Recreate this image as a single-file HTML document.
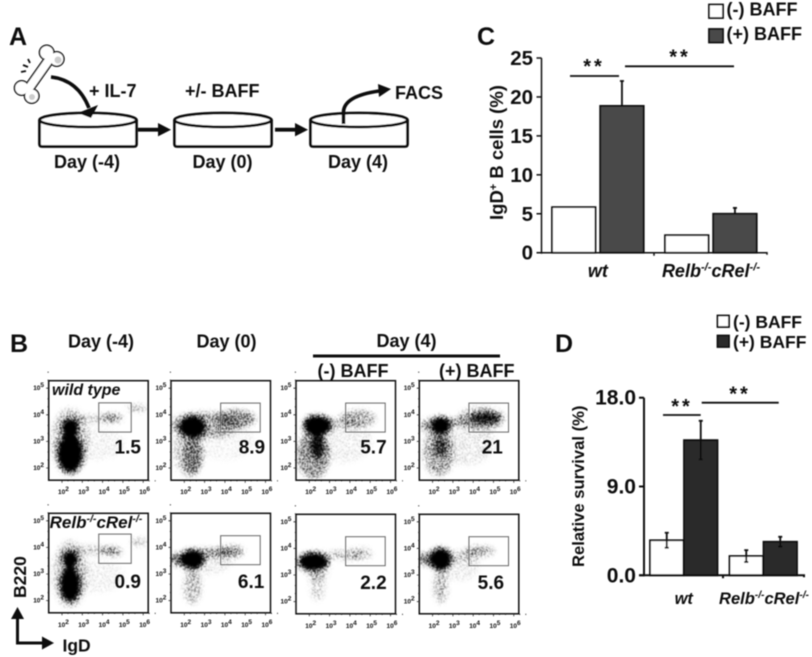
<!DOCTYPE html>
<html>
<head>
<meta charset="utf-8">
<title>BAFF B cell figure</title>
<style>
html,body{margin:0;padding:0;background:#fff;width:812px;height:657px;overflow:hidden}
svg{display:block;font-family:"Liberation Sans",sans-serif;font-weight:bold;fill:#111}
text{fill:#111}
.i{font-style:italic}
</style>
</head>
<body>
<svg id="figure" xmlns="http://www.w3.org/2000/svg" width="812" height="657" viewBox="0 0 812 657">
<defs>
<filter id="soft" x="0" y="0" width="100%" height="100%"><feGaussianBlur stdDeviation="0.4"/></filter>
<filter id="speckle" x="-10%" y="-10%" width="120%" height="120%" color-interpolation-filters="sRGB">
<feGaussianBlur in="SourceAlpha" stdDeviation="2.6" result="density"/>
<feTurbulence type="fractalNoise" baseFrequency="0.8" numOctaves="2" seed="4" result="turb"/>
<feColorMatrix in="turb" type="matrix" values="0 0 0 0 0  0 0 0 0 0  0 0 0 0 0  5 0 0 0 -2" result="noise"/>
<feComposite in="density" in2="noise" operator="arithmetic" k1="0" k2="3.4" k3="2.2" k4="-2.2" result="dither"/>
<feGaussianBlur in="dither" stdDeviation="0.4"/>
</filter>
</defs>
<g id="root" filter="url(#soft)">
<g>
<text x="9" y="45" font-size="25">A</text>
<g>
<g fill="#111" stroke="#111" stroke-width="3">
<circle cx="46.7" cy="52.5" r="6.5"/><circle cx="56.7" cy="59" r="6.5"/><circle cx="21.7" cy="88" r="6.5"/><circle cx="31.7" cy="96" r="6.5"/>
<path d="M51 57L27 91" stroke-width="11"/>
</g>
<g fill="#fff" stroke="#fff">
<circle cx="46.7" cy="52.5" r="6.5" stroke-width="0"/><circle cx="56.7" cy="59" r="6.5" stroke-width="0"/><circle cx="21.7" cy="88" r="6.5" stroke-width="0"/><circle cx="31.7" cy="96" r="6.5" stroke-width="0"/>
<path d="M51 57L27 91" stroke-width="8"/>
</g>
<circle cx="58" cy="60" r="3.5" fill="#ccc"/>
<circle cx="32" cy="97" r="3" fill="#ccc"/>
<path d="M21 72L26 71M23 65L28 67M28 59L30 63" stroke="#111" stroke-width="1.8" fill="none"/>
</g>
<g fill="#fff" stroke="#111" stroke-width="2.8">
<g><path d="M39.5 120V144Q39.5 146.5 42 146.5H134Q136.5 146.5 136.5 144V120" fill="#fff"/><ellipse cx="88" cy="120" rx="48.5" ry="7"/></g>
<g><path d="M174.5 120V144Q174.5 146.5 177 146.5H269Q271.5 146.5 271.5 144V120" fill="#fff"/><ellipse cx="223" cy="120" rx="48.5" ry="7"/></g>
<g><path d="M310.5 120V144Q310.5 146.5 313 146.5H405Q407.5 146.5 407.5 144V120" fill="#fff"/><ellipse cx="359" cy="120" rx="48.5" ry="7"/></g>
</g>
<path d="M51 77Q78 80 89 108" fill="none" stroke="#111" stroke-width="3.6"/>
<path d="M98 105L91 118L78 113Z" fill="#111"/>
<path d="M138 127.8H158V123L171 129.7L158 136.4V131.6H138Z" fill="#111"/>
<path d="M275 127.8H295V123L308 129.7L295 136.4V131.6H275Z" fill="#111"/>
<path d="M343.5 124V112Q344 96 379 91" fill="none" stroke="#111" stroke-width="3.6"/>
<path d="M378 84L391 89L379 97Z" fill="#111"/>
<text x="89" y="97" font-size="18">+ IL-7</text>
<text x="185" y="97" font-size="18">+/- BAFF</text>
<text x="395" y="99" font-size="18">FACS</text>
<text x="54" y="168" font-size="18">Day (-4)</text>
<text x="192.5" y="168" font-size="18">Day (0)</text>
<text x="328" y="168" font-size="18">Day (4)</text>
</g>
<g id="panelB">
<text x="10" y="352" font-size="25">B</text>
<text x="68" y="347.5" font-size="18">Day (-4)</text>
<text x="196.5" y="347.5" font-size="18">Day (0)</text>
<text x="376.5" y="347" font-size="18">Day (4)</text>
<rect x="313" y="354.5" width="187" height="3" fill="#111"/>
<text x="317.5" y="377" font-size="18">(-) BAFF</text>
<text x="439" y="377" font-size="18">(+) BAFF</text>
<text transform="translate(26,598) rotate(-90)" font-size="17.5">B220</text>
<path d="M17.5 643V618" stroke="#111" stroke-width="3" fill="none"/>
<path d="M11 619L17.5 607L24 619Z" fill="#111"/>
<path d="M16 643H44" stroke="#111" stroke-width="3" fill="none"/>
<path d="M42 636.5L54 643L42 649.5Z" fill="#111"/>
<text x="62.5" y="651.5" font-size="17.5">IgD</text>
</g>
<g>
<text x="477" y="45" font-size="25">C</text>
<rect x="709" y="4.5" width="14" height="13.5" fill="#fff" stroke="#111" stroke-width="1.8"/>
<rect x="709" y="29" width="14" height="13.5" fill="#4a4a4a" stroke="#111" stroke-width="1.8"/>
<text x="726.5" y="15.5" font-size="18">(-) BAFF</text>
<text x="726.5" y="40" font-size="18">(+) BAFF</text>
<text transform="translate(503,220) rotate(-90)" font-size="18.5">IgD<tspan font-size="11" dy="-6">+</tspan><tspan dy="6"> B cells (%)</tspan></text>
</g>
<g>
<text x="555" y="352" font-size="25">D</text>
<rect x="717.5" y="315.5" width="11.5" height="11.5" fill="#fff" stroke="#111" stroke-width="1.8"/>
<rect x="717.5" y="335.5" width="11.5" height="11.5" fill="#2a2a2a" stroke="#111" stroke-width="1.8"/>
<text x="733" y="328" font-size="17.5">(-) BAFF</text>
<text x="733" y="348" font-size="17.5">(+) BAFF</text>
<text transform="translate(584,567) rotate(-90)" font-size="16.6">Relative survival (%)</text>
</g>
</g>
<script>
const cCategories = ['wt', 'Relb'];
const cMinusValues = [5.85, 2.25];
const cPlusValues = [18.85, 5.0];
const cPlusErrors = [3.2, 0.75];
const cTicks = [0, 5, 10, 15, 20, 25];
const cTickLabels = ['0', '5', '10', '15', '20', '25'];

const dCategories = ['wt', 'Relb'];
const dMinusValues = [3.55, 1.95];
const dPlusValues = [13.7, 3.4];
const dMinusErrors = [0.76, 0.6];
const dPlusErrors = [1.96, 0.5];
const dTicks = [0, 9, 18];
const dTickLabels = ['0.0', '9.0', '18.0'];

const flowDecadesX = [2, 3, 4, 5, 6];
const flowDecadesY = [2, 3, 4, 5];

// Flow-plot populations: [log IgD, log B220, radius log IgD, radius log B220, density]
const popWtDayM4 = [[2.4,2.55,.62,.72,1],[2.4,3.5,.42,.36,1],[2.4,3,.9,1.25,.2],[4.45,3.88,.5,.16,.4],[3.4,3.85,1,.14,.18],[5.7,4.25,.5,.12,.22],[3.6,2.9,1.5,.6,.05]];
const popWtDay0 = [[2.4,3.55,.65,.42,1],[3,3.6,1.7,.5,.28],[4.5,3.85,1,.32,.42],[2.4,2.45,.46,.7,.42],[2.2,2.7,.75,1,.16],[4,3,1.5,.7,.04]];
const popWtMinus = [[2.4,3.6,.7,.38,1],[2.4,2.8,.36,.46,.8],[2.2,2.5,.8,.9,.36],[4.4,3.85,.85,.32,.28],[3.5,3.7,1,.22,.15],[3.6,3,1.5,.8,.06]];
const popWtPlus = [[2.4,3.6,.48,.32,1],[2.4,2.8,.34,.4,.6],[2.3,2.6,.75,.9,.28],[2.2,3.6,.85,.28,.32],[4.6,3.87,.75,.25,.78],[4.4,3.85,1.15,.42,.24],[3.3,3.75,.8,.16,.22],[3.6,3,1.5,.9,.08]];
const popKoDayM4 = [[2.4,2.6,.5,.66,1],[2.4,3.55,.38,.34,1],[2.4,3,.85,1.25,.18],[4.45,3.85,.5,.16,.38],[3.5,3.9,1,.16,.18],[5.8,4.2,.4,.14,.22],[3.6,2.9,1.5,.6,.05]];
const popKoDay0 = [[2.4,3.55,.6,.36,1],[1.8,3.55,.5,.22,.55],[3.5,3.8,1,.14,.38],[4.3,3.85,.65,.22,.32],[2.4,2.55,.44,.66,.22],[3,3.5,1.4,.5,.08]];
const popKoMinus = [[2.2,3.5,.75,.34,1],[3.7,3.75,.9,.16,.22],[4.5,3.8,.6,.22,.18],[2.4,2.6,.34,.56,.15],[2.4,3.3,.6,.6,.13]];
const popKoPlus = [[2.4,3.6,.54,.42,1],[1.8,3.6,.5,.22,.55],[4.3,3.9,.75,.18,.3],[3.5,3.7,.9,.22,.15],[2.4,2.6,.34,.66,.22],[3.3,3.3,1,.5,.07]];

// Gate bounds in log units: [x low, x high, y low, y high]
const gatesRow1 = [[3.81,5.41,3.35,4.45],[3.79,5.74,3.35,4.44],[3.79,5.74,3.35,4.44],[3.79,5.74,3.35,4.44]];
const gatesRow2 = [[3.81,5.41,3.4,4.5],[3.79,5.74,3.35,4.44],[3.79,5.74,3.35,4.44],[3.79,5.74,3.35,4.44]];
const gateLabelsRow1 = ['1.5', '8.9', '5.7', '21'];
const gateLabelsRow2 = ['0.9', '6.1', '2.2', '5.6'];
const gateLabelLogXRow1 = [5.24, 5.33, 5.16, 4.94];
const gateLabelLogXRow2 = [5.24, 5.29, 5.16, 4.87];

const SVGNS = 'http://www.w3.org/2000/svg';
const root = document.getElementById('root');

function mk(parent, tag, attrs) {
  const el = document.createElementNS(SVGNS, tag);
  for (const k in attrs) el.setAttribute(k, attrs[k]);
  parent.appendChild(el);
  return el;
}

/* ---------- bar charts ---------- */
function koLabel(g, cx, y, size) {
  const t = mk(g, 'text', {x: cx, y: y, 'font-size': size, 'text-anchor': 'middle', 'class': 'i'});
  
  
  const parts = [['Relb', 0], ['-/-', 1], ['cRel', 0], ['-/-', 1]];
  let prev = 0;
  parts.forEach(function (p) {
    const s = mk(t, 'tspan', {});
    s.textContent = p[0];
    const shift = p[1] ? -size * 0.35 : 0;
    s.setAttribute('dy', shift - prev);
    if (p[1]) s.setAttribute('font-size', size * 0.62);
    prev = shift;
  });
}

function drawBars(opt) {
  const g = mk(root, 'g', {});
  
  
  const yS = function (v) { return opt.y0 - (v / opt.yMax) * (opt.y0 - opt.yTop); };
  opt.xStarts.forEach(function (x, i) {
    const pairs = [[opt.minus, opt.minusErr, x, '#fff', 'minus'], [opt.plus, opt.plusErr, x + opt.step, opt.dark, 'plus']];
    pairs.forEach(function (p) {
      const v = p[0][i];
      const r = mk(g, 'rect', {x: p[2], y: yS(v), width: opt.barW, height: opt.y0 - yS(v), fill: p[3], stroke: '#111', 'stroke-width': 1.8});
      
      
      if (p[1]) {
        const cx = p[2] + opt.barW / 2;
        const top = yS(v + p[1][i]);
        const bot = opt.twoSided ? yS(v - p[1][i]) : yS(v);
        const e = mk(g, 'path', {d: 'M' + cx + ' ' + top + 'V' + bot + 'M' + (cx - 2) + ' ' + top + 'H' + (cx + 2) + (opt.twoSided ? 'M' + (cx - 2) + ' ' + bot + 'H' + (cx + 2) : ''), stroke: '#111', 'stroke-width': 1.8, fill: 'none'});
        
        
      }
    });
  });
  const yAxis = mk(g, 'path', {d: 'M' + opt.axisX + ' ' + opt.yTop + 'V' + (opt.y0 + 1), stroke: '#111', 'stroke-width': opt.axisW, fill: 'none'});
  
  
  const xAxis = mk(g, 'path', {d: 'M' + (opt.axisX - 5) + ' ' + opt.y0 + 'H' + opt.axisEnd + 'V' + (opt.y0 + 2) + 'M' + opt.midTick + ' ' + opt.y0 + 'v3', stroke: '#111', 'stroke-width': opt.axisW, fill: 'none'});
  
  
  opt.ticks.forEach(function (v, i) {
    const tk = mk(g, 'path', {d: 'M' + (opt.axisX - 5) + ' ' + yS(v) + 'H' + opt.axisX, stroke: '#111', 'stroke-width': opt.axisW});
    
    
    const t = mk(g, 'text', {x: opt.labelX, y: yS(v) + opt.labelDy, 'font-size': opt.tickSize, 'text-anchor': 'end'});
    
    
    t.textContent = opt.tickLabels[i];
  });
  const wt = mk(g, 'text', {x: opt.xStarts[0] + opt.barW + (opt.step - opt.barW) / 2, y: opt.catY, 'font-size': opt.catSize, 'text-anchor': 'middle', 'class': 'i'});
  
  
  wt.textContent = 'wt';
  koLabel(g, opt.koX, opt.catY, opt.catSize);
  opt.sig.forEach(function (s) {
    const l = mk(g, 'path', {d: 'M' + s[0] + ' ' + s[2] + 'H' + s[1], stroke: '#111', 'stroke-width': 1.8});
    
    
    const st = mk(g, 'text', {x: s[3], y: s[2] + s[4], 'font-size': 20, 'text-anchor': 'middle', 'letter-spacing': 3});
    
    
    st.textContent = '**';
  });
}

drawBars({name: 'chart-c', categories: cCategories, minus: cMinusValues, plus: cPlusValues, minusErr: null, plusErr: cPlusErrors,
  y0: 252.7, yTop: 58, yMax: 25, xStarts: [552, 665], barW: 43.5, step: 48.2, dark: '#4a4a4a', axisX: 541.5, axisEnd: 767, midTick: 654, axisW: 1.5,
  ticks: cTicks, tickLabels: cTickLabels, labelX: 533, labelDy: 7, tickSize: 20.5, catY: 277, catSize: 18, koX: 711,
  sig: [[570, 619, 76, 594, -3], [625, 734, 66.3, 680, -3]]});

drawBars({name: 'chart-d', categories: dCategories, minus: dMinusValues, plus: dPlusValues, minusErr: dMinusErrors, plusErr: dPlusErrors, twoSided: true,
  y0: 575.3, yTop: 397.7, yMax: 18, xStarts: [650, 729.5], barW: 33.5, step: 34, dark: '#2a2a2a', axisX: 644, axisEnd: 804, midTick: 723, axisW: 2,
  ticks: dTicks, tickLabels: dTickLabels, labelX: 636, labelDy: 7, tickSize: 21, catY: 604, catSize: 16.5, koX: 764,
  sig: [[663, 700.7, 415, 682, -2], [701.7, 778.7, 402.7, 740, -2]]});

/* ---------- flow plots ---------- */
const panelB = document.getElementById('panelB');
const clipBase = mk(document.querySelector('defs'), 'g', {});
const columnsX = [48.7, 171, 296, 419.3];
const rowsY = [[380.7, 380.7, 380.7, 380.7], [513.3, 513.3, 514.3, 514.3]];
const populations = [[popWtDayM4, popWtDay0, popWtMinus, popWtPlus], [popKoDayM4, popKoDay0, popKoMinus, popKoPlus]];
const gates = [gatesRow1, gatesRow2];
const gateTexts = [gateLabelsRow1, gateLabelsRow2];
const gateTextX = [gateLabelLogXRow1, gateLabelLogXRow2];
const gateTextY = [2.55, 2.47];

function drawFlow(row, col) {
  const left = columnsX[col];
  const top = rowsY[row][col];
  const W = 99.5, H = 99.5;
  const xS = function (l) { return left + 13.3 + (l - 2) * 20.3; };
  const yS = function (l) { return top + 87.3 - (l - 2) * 26.6; };
  const g = mk(panelB, 'g', {});
  
  
  const id = 'clip' + row + col;
  const cp = mk(clipBase, 'clipPath', {id: id});
  mk(cp, 'rect', {x: left, y: top, width: W, height: H});
  const clipG = mk(g, 'g', {'clip-path': 'url(#' + id + ')'});
  
  
  const cloud = mk(clipG, 'g', {filter: 'url(#speckle)'});
  
  
  populations[row][col].forEach(function (p) {
    const e = mk(cloud, 'ellipse', {cx: xS(p[0]), cy: yS(p[1]), rx: p[2] * 20.3, ry: p[3] * 26.6, fill: '#000', 'fill-opacity': p[4]});
    
    
  });
  const frame = mk(g, 'rect', {x: left, y: top, width: W, height: H, fill: 'none', stroke: '#111', 'stroke-width': 1.5});
  
  
  const gt = gates[row][col];
  const gr = mk(g, 'rect', {x: xS(gt[0]), y: yS(gt[3]), width: xS(gt[1]) - xS(gt[0]), height: yS(gt[2]) - yS(gt[3]), fill: 'none', stroke: '#666', 'stroke-width': 1});
  
  
  const num = mk(g, 'text', {x: xS(gateTextX[row][col]), y: yS(gateTextY[row]), 'font-size': 19, 'text-anchor': 'middle'});
  
  
  num.textContent = gateTexts[row][col];
  flowDecadesX.forEach(function (d) {
    const x = xS(d);
    const tk = mk(g, 'path', {d: 'M' + x + ' ' + (top + H) + 'v2.5M' + (x + 6) + ' ' + (top + H) + 'v1.2M' + (x + 12) + ' ' + (top + H) + 'v1.2', stroke: '#222', 'stroke-width': 0.8});
    
    
    const t = mk(g, 'text', {x: x - 4, y: top + H + 14, 'font-size': 6.5, fill: '#222'});
    
    
    t.textContent = '10';
    const sup = mk(t, 'tspan', {dy: -3});
    sup.textContent = String(d);
  });
  flowDecadesY.forEach(function (d) {
    const y = yS(d);
    const tk = mk(g, 'path', {d: 'M' + left + ' ' + y + 'h-2.5M' + left + ' ' + (y - 8) + 'h-1.2M' + left + ' ' + (y - 16) + 'h-1.2', stroke: '#222', 'stroke-width': 0.8});
    
    
    const t = mk(g, 'text', {x: left - 15.5, y: y + 2, 'font-size': 6.5, fill: '#222'});
    
    
    t.textContent = '10';
    const sup = mk(t, 'tspan', {dy: -3});
    sup.textContent = String(d);
  });
}

[0, 1].forEach(function (row) {
  [0, 1, 2, 3].forEach(function (col) { drawFlow(row, col); });
});

const wtTag = mk(panelB, 'text', {x: 52, y: 395, 'font-size': 16, 'class': 'i'});


wtTag.textContent = 'wild type';
koLabel(panelB, 96, 528, 17);
</script>
</svg>
</body>
</html>
